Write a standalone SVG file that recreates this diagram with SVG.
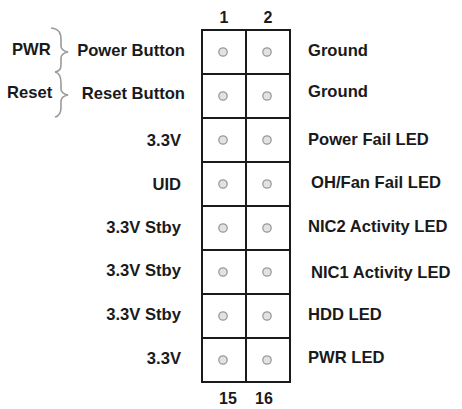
<svg xmlns="http://www.w3.org/2000/svg" width="462" height="409" viewBox="0 0 462 409">
<style>
text{font-family:"Liberation Sans",Arial,sans-serif;font-weight:bold;font-size:16.6px;fill:#1a1a1a}
.l{text-anchor:end}
.n{text-anchor:middle;font-size:16px}
.grid{fill:none;stroke:#1a1a1a;stroke-width:2}
.pin{fill:#e2e2e2;stroke:#9a9a9a;stroke-width:1.3}
.brace{fill:none;stroke:#9a9a9a;stroke-width:1.6}
</style>
<rect width="462" height="409" fill="#fff"/>
<g id="header">
<text class="n" x="224" y="23">1</text>
<text class="n" x="268" y="23">2</text>
<text class="n" x="228" y="404">15</text>
<text class="n" x="264" y="404">16</text>
</g>
<g id="grid">
<rect class="grid" x="202" y="30" width="88" height="352"/>
<path class="grid" d="M246 30V382M202 74H290M202 118H290M202 162H290M202 206H290M202 250H290M202 294H290M202 338H290"/>
</g>
<g id="pins">
<circle class="pin" cx="223" cy="52" r="4.2"/><circle class="pin" cx="267" cy="52" r="4.2"/>
<circle class="pin" cx="223" cy="96" r="4.2"/><circle class="pin" cx="267" cy="96" r="4.2"/>
<circle class="pin" cx="223" cy="140" r="4.2"/><circle class="pin" cx="267" cy="140" r="4.2"/>
<circle class="pin" cx="223" cy="184" r="4.2"/><circle class="pin" cx="267" cy="184" r="4.2"/>
<circle class="pin" cx="223" cy="228" r="4.2"/><circle class="pin" cx="267" cy="228" r="4.2"/>
<circle class="pin" cx="223" cy="272" r="4.2"/><circle class="pin" cx="267" cy="272" r="4.2"/>
<circle class="pin" cx="223" cy="316" r="4.2"/><circle class="pin" cx="267" cy="316" r="4.2"/>
<circle class="pin" cx="223" cy="360" r="4.2"/><circle class="pin" cx="267" cy="360" r="4.2"/>
</g>
<g id="left-labels">
<text class="l" x="185" y="56">Power Button</text>
<text class="l" x="185" y="99">Reset Button</text>
<text class="l" x="181" y="146">3.3V</text>
<text class="l" x="181" y="190">UID</text>
<text class="l" x="181" y="233">3.3V Stby</text>
<text class="l" x="181" y="276">3.3V Stby</text>
<text class="l" x="181" y="320">3.3V Stby</text>
<text class="l" x="181" y="364">3.3V</text>
</g>
<g id="right-labels">
<text x="308" y="56">Ground</text>
<text x="308" y="97">Ground</text>
<text x="308" y="145">Power Fail LED</text>
<text x="311" y="188">OH/Fan Fail LED</text>
<text x="308" y="232">NIC2 Activity LED</text>
<text x="311" y="278">NIC1 Activity LED</text>
<text x="308" y="320">HDD LED</text>
<text x="308" y="363">PWR LED</text>
</g>
<g id="brace-labels">
<text x="12" y="55">PWR</text>
<text x="7" y="98">Reset</text>
</g>
<g id="connectors">
<path class="brace" d="M51 28C60 29 61 34 61 40V46C61 49 63 51 68 52C63 53 61 55 61 58V64C61 69 60 71 55 72"/>
<path class="brace" d="M55 72C60 73 61 77 61 83V89C61 92 63 94 68 95C63 96 61 98 61 101V107C61 112 60 116 55 117"/>
</g>
</svg>
